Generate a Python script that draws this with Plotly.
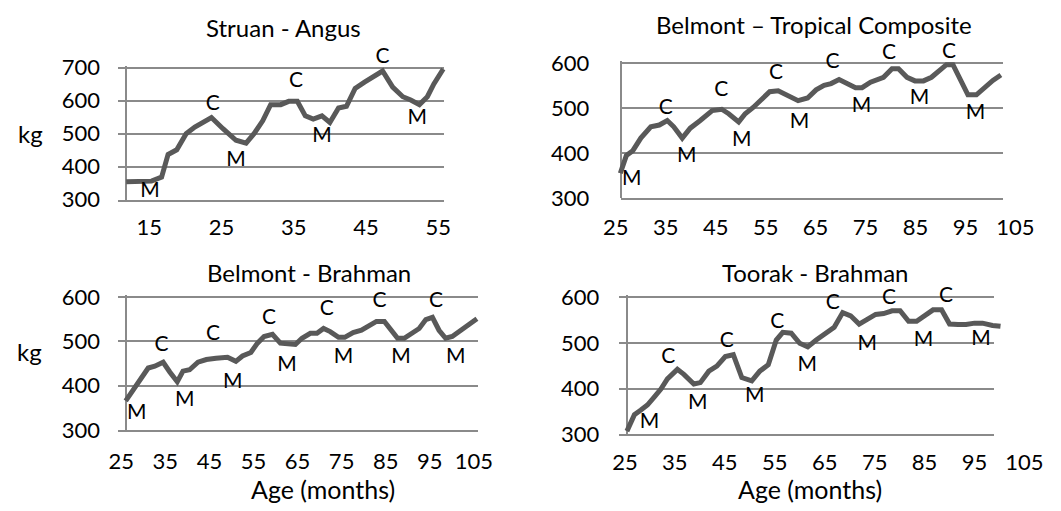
import plotly.graph_objects as go

W, H = 1061, 511
FONT = "Lato"
LINE_COLOR = "#595959"
GRID_COLOR = "#8a8a8a"
TICK_SIZE = 22
TITLE_SIZE = 24
LABEL_SIZE = 21
KG_SIZE = 24
AGE_SIZE = 25

# ---------------- data ----------------
# Struan - Angus
p1_age = [11.8, 13.3, 15.3, 16.7, 17.6, 18.8, 20.1, 21.3, 23.6, 25.2, 27.0, 28.4, 29.5, 30.7,
          31.8, 33.2, 34.3, 35.5, 36.6, 37.7, 38.9, 40.0, 41.2, 42.3, 43.5, 44.8, 46.2, 47.3,
          48.7, 50.1, 51.2, 52.4, 53.5, 54.4, 55.7]
p1_kg = [354, 354, 356, 368, 437, 451, 500, 520, 549, 515, 480, 471, 500, 539,
         588, 588, 598, 598, 554, 544, 554, 534, 578, 583, 637, 656, 676, 690,
         641, 612, 602, 588, 612, 651, 696]
p1_lab_age = [15.1, 23.8, 27.0, 35.3, 38.9, 47.3, 52.1]
p1_lab_kg = [324, 588, 417, 656, 490, 729, 544]
p1_lab_txt = ["M", "C", "M", "C", "M", "C", "M"]

# Belmont - Tropical Composite
p2_age = [25.9, 27.1, 28.4, 30.0, 32.0, 33.7, 35.3, 36.6, 38.3, 39.9, 41.9, 44.3, 46.2, 47.6,
          49.6, 50.9, 52.5, 54.2, 55.8, 57.5, 59.5, 61.5, 63.4, 65.1, 66.7, 68.1, 69.7, 71.4,
          73.0, 74.3, 76.0, 78.6, 80.3, 81.6, 83.3, 84.9, 86.6, 88.2, 89.9, 91.2, 92.5, 93.8,
          95.5, 97.2, 98.8, 100.5, 102.1]
p2_kg = [355, 394, 405, 433, 458, 462, 472, 458, 433, 455, 472, 494, 497, 487,
         469, 487, 501, 518, 536, 538, 526, 516, 522, 540, 550, 554, 563, 554,
         545, 545, 557, 568, 587, 587, 568, 560, 560, 568, 582, 596, 596, 568,
         529, 529, 545, 561, 573]
p2_lab_age = [28.2, 35.0, 39.2, 46.1, 50.2, 57.1, 61.8, 68.4, 74.2, 79.7, 85.8, 91.7, 97.0]
p2_lab_kg = [341, 499, 391, 538, 426, 575, 467, 600, 502, 621, 520, 623, 487]
p2_lab_txt = ["M", "C", "M", "C", "M", "C", "M", "C", "M", "C", "M", "C", "M"]

# Belmont - Brahman
p3_age = [26.0, 27.8, 29.6, 31.1, 32.6, 34.5, 36.0, 37.7, 39.0, 40.5, 42.4, 44.3, 46.5, 49.1,
          51.0, 52.5, 54.4, 55.9, 57.4, 59.3, 61.1, 63.0, 64.5, 66.0, 67.9, 69.4, 70.9, 72.4,
          74.3, 75.7, 77.6, 79.5, 81.0, 82.9, 84.7, 86.2, 87.7, 89.2, 90.7, 92.6, 94.1, 95.6,
          97.1, 98.6, 100.1, 102.0, 103.9, 105.7]
p3_kg = [366, 391, 417, 440, 444, 453, 431, 409, 433, 436, 453, 459, 462, 464,
         455, 467, 475, 496, 511, 516, 496, 493, 493, 507, 518, 518, 529, 522,
         509, 509, 520, 525, 533, 545, 545, 527, 507, 507, 517, 529, 549, 554,
         525, 507, 511, 525, 540, 551]
p3_lab_age = [28.5, 34.1, 39.4, 45.8, 50.3, 58.5, 62.6, 71.6, 75.4, 83.6, 88.5, 96.4, 100.9]
p3_lab_kg = [337, 489, 367, 514, 406, 551, 446, 572, 462, 589, 464, 589, 462]
p3_lab_txt = ["M", "C", "M", "C", "M", "C", "M", "C", "M", "C", "M", "C", "M"]

# Toorak - Brahman
p4_age = [25.4, 26.9, 28.2, 29.5, 30.9, 32.2, 33.5, 35.5, 36.8, 38.8, 40.1, 41.8, 43.4, 45.1,
          46.7, 48.4, 50.4, 52.0, 53.7, 55.3, 56.6, 58.3, 60.0, 61.6, 63.3, 64.9, 66.9, 68.6,
          70.2, 71.9, 73.5, 75.2, 76.8, 78.5, 80.1, 81.8, 83.4, 85.1, 86.7, 88.4, 90.0, 91.7,
          93.3, 95.0, 96.6, 98.6, 100.2]
p4_kg = [307, 343, 353, 364, 382, 399, 421, 442, 431, 410, 413, 438, 449, 470,
         474, 424, 417, 438, 452, 506, 523, 521, 499, 491, 506, 520, 534, 566,
         559, 541, 552, 562, 564, 570, 570, 547, 547, 561, 572, 572, 541, 540,
         540, 543, 543, 538, 536]
p4_lab_age = [29.9, 33.7, 39.6, 45.4, 51.0, 55.5, 61.5, 66.6, 73.5, 77.9, 84.8, 89.3, 96.3]
p4_lab_kg = [325, 467, 367, 502, 382, 543, 450, 585, 495, 597, 504, 600, 506]
p4_lab_txt = ["M", "C", "M", "C", "M", "C", "M", "C", "M", "C", "M", "C", "M"]

titles = ["Struan - Angus", "Belmont \u2013 Tropical Composite", "Belmont - Brahman", "Toorak - Brahman"]
x_ticks = [[15, 25, 35, 45, 55], [25, 35, 45, 55, 65, 75, 85, 95, 105],
           [25, 35, 45, 55, 65, 75, 85, 95, 105], [25, 35, 45, 55, 65, 75, 85, 95, 105]]
y_ticks = [[300, 400, 500, 600, 700], [300, 400, 500, 600],
           [300, 400, 500, 600], [300, 400, 500, 600]]
y_axis_title = "kg"
x_axis_title = "Age (months)"

series = [
    (p1_age, p1_kg, p1_lab_age, p1_lab_kg, p1_lab_txt),
    (p2_age, p2_kg, p2_lab_age, p2_lab_kg, p2_lab_txt),
    (p3_age, p3_kg, p3_lab_age, p3_lab_kg, p3_lab_txt),
    (p4_age, p4_kg, p4_lab_age, p4_lab_kg, p4_lab_txt),
]

# ---------------- layout geometry (pixels) ----------------
geom = [
    dict(m0=15, px0=144.3, sx=7.375, fx=(112.7, 445.0), vline=120.7, py0=201.7, sy=0.34175,
         xd=(10, 57), ytop=760, ylab_end=91, xlab_gap=15.0, title=(281.6, 23.5),
         kg=(23, 133), age=None),
    dict(m0=25, px0=620.7, sx=5.1, fx=(626.0, 1016.0), vline=626.0, py0=200.0, sy=0.4667,
         xd=(24, 106), ytop=640, ylab_end=590.7, xlab_gap=17.0, title=(822.6, 20.5),
         kg=None, age=None),
    dict(m0=25, px0=115.7, sx=4.5, fx=(112.3, 480.0), vline=120.7, py0=440.7, sy=0.4603,
         xd=(24, 107), ytop=620, ylab_end=91, xlab_gap=18.0, title=(307.8, 277.5),
         kg=(22, 359), age=(322, 502)),
    dict(m0=25, px0=630.0, sx=5.1, fx=(624.3, 1007.3), vline=631.7, py0=445.0, sy=0.4743,
         xd=(23, 106), ytop=625, ylab_end=600.8, xlab_gap=15.0, title=(825, 277.0),
         kg=None, age=(819, 502)),
]

fig = go.Figure()
layout = dict(
    width=W, height=H, margin=dict(l=0, r=0, t=0, b=0),
    paper_bgcolor="white", plot_bgcolor="rgba(0,0,0,0)",
    showlegend=False, font=dict(family=FONT, size=TICK_SIZE, color="black"),
)
annotations = []

for i, (g, s) in enumerate(zip(geom, series)):
    fi = i + 1      # frame axes
    di = i + 5      # data axes
    age, kg, lab_age, lab_kg, lab_txt = s

    def xpx(m, g=g):
        return g["px0"] + (m - g["m0"]) * g["sx"]

    def mfrompx(p, g=g):
        return g["m0"] + (p - g["px0"]) / g["sx"]

    def ypx(v, g=g):
        return g["py0"] - (v - 300) * g["sy"]

    ymax_grid = max(y_ticks[i])
    ftop = ymax_grid + 4
    # frame axes: gridlines and axis lines
    layout[f"xaxis{fi}"] = dict(
        domain=[g["fx"][0] / W, g["fx"][1] / W],
        range=[mfrompx(g["fx"][0]), mfrompx(g["fx"][1])],
        anchor=f"y{fi}", showline=True, linecolor=GRID_COLOR, linewidth=1.5,
        showgrid=False, zeroline=False, showticklabels=False, ticks="", fixedrange=True,
    )
    layout[f"yaxis{fi}"] = dict(
        domain=[1 - ypx(300) / H, 1 - ypx(ftop) / H],
        range=[300, ftop], anchor="free", position=g["vline"] / W,
        showline=True, linecolor=GRID_COLOR, linewidth=1.5,
        showgrid=True, gridcolor=GRID_COLOR, gridwidth=1.5, tickvals=y_ticks[i],
        zeroline=False, showticklabels=False, ticks="", fixedrange=True,
    )
    # data axes: tick labels + data
    layout[f"xaxis{di}"] = dict(
        domain=[xpx(g["xd"][0]) / W, xpx(g["xd"][1]) / W],
        range=list(g["xd"]), anchor=f"y{di}",
        tickvals=x_ticks[i], ticks="outside", ticklen=max(g["xlab_gap"] - 7, 0),
        tickcolor="rgba(0,0,0,0)", showline=False, showgrid=False, zeroline=False,
        tickfont=dict(family=FONT, size=TICK_SIZE, color="black"), fixedrange=True,
    )
    layout[f"yaxis{di}"] = dict(
        domain=[1 - ypx(300) / H, 1 - ypx(g["ytop"]) / H],
        range=[300, g["ytop"]], anchor="free", position=(g["ylab_end"] + 3) / W,
        tickvals=y_ticks[i], ticks="", showline=False, showgrid=False, zeroline=False,
        tickfont=dict(family=FONT, size=TICK_SIZE, color="black"), fixedrange=True,
    )

    fig.add_trace(go.Scatter(x=[], y=[], xaxis=f"x{fi}", yaxis=f"y{fi}", hoverinfo="skip"))
    fig.add_trace(go.Scatter(
        x=age, y=kg, xaxis=f"x{di}", yaxis=f"y{di}", mode="lines",
        line=dict(color=LINE_COLOR, width=5), hoverinfo="skip",
    ))
    fig.add_trace(go.Scatter(
        x=lab_age, y=lab_kg, text=lab_txt, xaxis=f"x{di}", yaxis=f"y{di}", mode="text",
        textposition="middle center", textfont=dict(family=FONT, size=LABEL_SIZE, color="black"),
        cliponaxis=False, hoverinfo="skip",
    ))

    annotations.append(dict(
        text=titles[i], x=g["title"][0] / W, y=1 - g["title"][1] / H, xref="paper", yref="paper",
        xanchor="center", yanchor="middle", showarrow=False,
        font=dict(family=FONT, size=TITLE_SIZE, color="black"),
    ))
    if g["kg"]:
        annotations.append(dict(
            text=y_axis_title, x=g["kg"][0] / W, y=1 - g["kg"][1] / H, xref="paper", yref="paper",
            xanchor="center", yanchor="middle", showarrow=False,
            font=dict(family=FONT, size=KG_SIZE, color="black"),
        ))
    if g["age"]:
        annotations.append(dict(
            text=x_axis_title, x=g["age"][0] / W, y=1 - g["age"][1] / H, xref="paper", yref="paper",
            xanchor="center", yanchor="middle", showarrow=False,
            font=dict(family=FONT, size=AGE_SIZE, color="black"),
        ))

layout["annotations"] = annotations
fig.update_layout(**layout)
fig.write_html("out.html")
